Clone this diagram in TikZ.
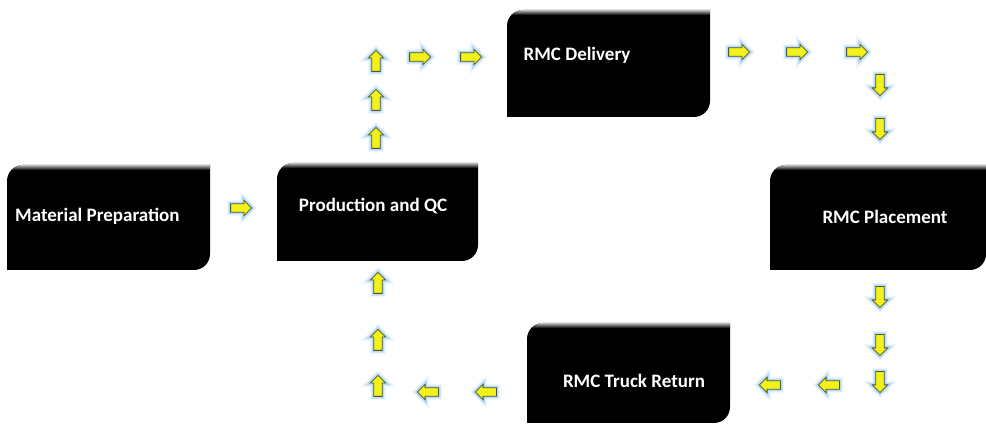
\documentclass[tikz,border=0pt]{standalone}
\usepackage{fontspec}
\setmainfont{Carlito}
\usetikzlibrary{shapes.arrows,backgrounds}

\definecolor{arrowfill}{HTML}{F2F21A}
\definecolor{arrowline}{HTML}{4A5438}
\definecolor{glowblue}{HTML}{A8D2F2}

\tikzset{
  stage/.style={inner sep=0pt, outer sep=0pt},
  caption/.style={text=white, inner sep=0pt,
    font=\bfseries\fontsize{19}{22}\selectfont},
  flow/.style={single arrow, draw=arrowline, fill=arrowfill, line width=0.8pt,
    minimum height=21pt, single arrow head extend=3.5pt,
    inner sep=3.8pt, shape border rotate=#1,
    preaction={draw=glowblue!50, line width=8pt, opacity=0.35},
    preaction={draw=glowblue, line width=4.5pt, opacity=0.7}},
  flow/.default=0
}

% box with rounded top-left and bottom-right corners
\newcommand\stageshape[1]{%
  (#1.south west) -- ([yshift=-16pt]#1.north west)
  arc[start angle=180, end angle=90, radius=16pt] -- (#1.north east)
  -- ([yshift=16pt]#1.south east)
  arc[start angle=0, end angle=-90, radius=16pt] -- cycle}

\begin{document}
\begin{tikzpicture}[x=1pt, y=1pt]
  \useasboundingbox (0,0) rectangle (986,425);

  % stage boxes
  \node[stage, anchor=south west, minimum width=203pt, minimum height=105pt] (mat) at (7,155) {};
  \node[stage, anchor=south west, minimum width=201pt, minimum height=98pt]  (prod) at (277,164) {};
  \node[stage, anchor=south west, minimum width=203pt, minimum height=107pt] (del) at (507,308) {};
  \node[stage, anchor=south west, minimum width=216pt, minimum height=105pt] (plc) at (770,155) {};
  \node[stage, anchor=south west, minimum width=203pt, minimum height=100pt] (ret) at (527,2) {};

  \begin{scope}[on background layer]
    \foreach \b in {mat,prod,del,plc,ret} {
      \fill[black] \stageshape{\b};
      \begin{scope}
        \clip \stageshape{\b};
        \shade[top color=gray!50, bottom color=black]
          (\b.north west) rectangle ([yshift=-5pt]\b.north east);
      \end{scope}
    }
  \end{scope}

  % captions
  \node[caption, anchor=west] (matT) at (15,209) {Material Preparation};
  \node[caption] (prodT) at (373,219) {Production and QC};
  \node[caption] (delT) at (577,370) {RMC Delivery};
  \node[caption] (plcT) at (885,208) {RMC Placement};
  \node[caption] (retT) at (634,44) {RMC Truck Return};

  % flow arrows: preparation to production
  \node[flow=0] (a1) at (239,217) {};
  % production up to delivery
  \node[flow=90] (a2) at (376,285) {};
  \node[flow=90] (a3) at (376,323) {};
  \node[flow=90] (a4) at (376,362) {};
  \node[flow=0] (a5) at (418,368) {};
  \node[flow=0] (a6) at (469,368) {};
  % delivery to placement
  \node[flow=0] (a7) at (737,373) {};
  \node[flow=0] (a8) at (795,373) {};
  \node[flow=0] (a9) at (855,373) {};
  \node[flow=270] (a10) at (880,342) {};
  \node[flow=270] (a11) at (880,298) {};
  % placement to truck return
  \node[flow=270] (a12) at (880,130) {};
  \node[flow=270] (a13) at (880,82) {};
  \node[flow=270] (a14) at (880,45) {};
  \node[flow=180] (a15) at (831,40) {};
  \node[flow=180] (a16) at (772,40) {};
  % truck return back to production
  \node[flow=180] (a17) at (488,33) {};
  \node[flow=180] (a18) at (430,33) {};
  \node[flow=90] (a19) at (378,37) {};
  \node[flow=90] (a20) at (378,83) {};
  \node[flow=90] (a21) at (378,140) {};
\end{tikzpicture}
\end{document}
